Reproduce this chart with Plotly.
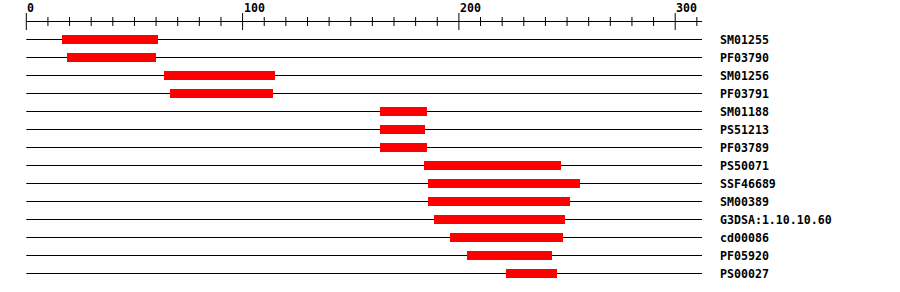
import plotly.graph_objects as go

# ---- data ----
names = ["SM01255", "PF03790", "SM01256", "PF03791", "SM01188", "PS51213",
         "PF03789", "PS50071", "SSF46689", "SM00389", "G3DSA:1.10.10.60",
         "cd00086", "PF05920", "PS00027"]
starts = [16.5, 18.8, 63.7, 66.4, 163.5, 163.5, 163.5, 183.9, 185.7, 185.7,
          188.5, 195.9, 203.7, 221.8]
ends = [60.7, 59.8, 114.8, 113.9, 185.2, 184.3, 185.2, 247.2, 255.9, 251.4,
        249.1, 248.1, 243.0, 245.4]
seq_length = 312.4
major_ticks = [0, 100, 200, 300]
minor_ticks = [10, 20, 30, 40, 50, 60, 70, 80, 90, 110, 120, 130, 140, 150,
               160, 170, 180, 190, 210, 220, 230, 240, 250, 260, 270, 280,
               290, 310]
tick_labels = ["0", "100", "200", "300"]

# ---- geometry (pixel-mapped scales) ----
W, H = 900, 292
x0_px, px_per_unit = 26.3, 2.163
row0_px, row_step = 39.5, 18.0
xr = [-x0_px / px_per_unit, (W - x0_px) / px_per_unit]
yr = [(H - row0_px) / row_step, -row0_px / row_step]

def ypx(p):
    return (p - row0_px) / row_step

FONT = "DejaVu Sans Mono"
FSIZE = 11.6
fig = go.Figure()

# row baselines (below the bars)
for i in range(len(names)):
    fig.add_shape(type="line", xref="x", yref="y", x0=0, x1=seq_length,
                  y0=i, y1=i, layer="below",
                  line=dict(color="black", width=1))

# domain bars
fig.add_trace(go.Bar(
    y=list(range(len(names))),
    x=[e - s for s, e in zip(starts, ends)],
    base=starts, orientation="h", width=9 / row_step,
    marker=dict(color="#ff0000", line=dict(width=0)),
    hovertext=names, hoverinfo="text"))

# ruler
ya = ypx(21.5)
fig.add_trace(go.Scatter(x=[0, seq_length], y=[ya, ya], mode="lines",
                         line=dict(color="black", width=1), hoverinfo="skip"))
tx, ty = [], []
for t in minor_ticks:
    tx += [t, t, None]
    ty += [ypx(17), ypx(26), None]
for t in major_ticks:
    tx += [t, t, None]
    ty += [ypx(13), ypx(30), None]
fig.add_trace(go.Scatter(x=tx, y=ty, mode="lines",
                         line=dict(color="black", width=1), hoverinfo="skip"))

for t, lab in zip(major_ticks, tick_labels):
    fig.add_annotation(x=t, y=ypx(8), text=lab, showarrow=False,
                       xanchor="left", yanchor="middle", xshift=-1,
                       font=dict(family=FONT, size=FSIZE, color="black",
                                 weight="bold"))

label_x = (719 - x0_px) / px_per_unit
for i, n in enumerate(names):
    fig.add_annotation(x=label_x, y=i, text=n, showarrow=False,
                       xanchor="left", yanchor="middle", xshift=-1,
                       font=dict(family=FONT, size=FSIZE, color="black",
                                 weight="bold"))

fig.update_layout(
    width=W, height=H, margin=dict(l=0, r=0, t=0, b=0),
    paper_bgcolor="white", plot_bgcolor="white", showlegend=False,
    xaxis=dict(range=xr, visible=False, fixedrange=True),
    yaxis=dict(range=yr, visible=False, fixedrange=True),
    bargap=0,
)
fig.write_html("out.html")
